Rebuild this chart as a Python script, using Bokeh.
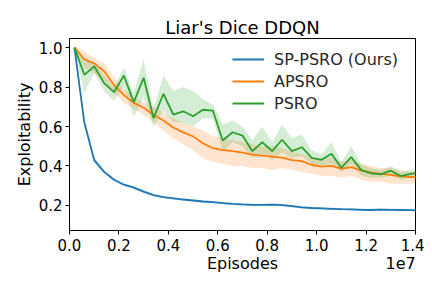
from bokeh.plotting import figure
from bokeh.models import FixedTicker, Range1d, Legend, LegendItem, LinearAxis
from bokeh.embed import file_html
from bokeh.resources import INLINE

episodes = [200000, 600000, 1000000, 1400000, 1800000, 2200000, 2600000, 3000000,
            3400000, 3800000, 4200000, 4600000, 5000000, 5400000, 5800000, 6200000,
            6600000, 7000000, 7400000, 7800000, 8200000, 8600000, 9000000, 9400000,
            9800000, 10200000, 10600000, 11000000, 11400000, 11800000, 12200000,
            12600000, 13000000, 13400000, 13800000, 14200000]

sp_psro = [1.0, 0.62, 0.43, 0.37, 0.33, 0.305, 0.29, 0.27, 0.252, 0.242, 0.236, 0.23,
           0.225, 0.22, 0.217, 0.212, 0.208, 0.205, 0.203, 0.203, 0.204, 0.202, 0.197,
           0.19, 0.187, 0.185, 0.183, 0.181, 0.18, 0.178, 0.177, 0.179, 0.178, 0.177,
           0.176, 0.174]
sp_psro_lo = [0.995, 0.60, 0.415, 0.36, 0.322, 0.298, 0.283, 0.262, 0.245, 0.236, 0.23, 0.224,
              0.219, 0.214, 0.211, 0.206, 0.202, 0.199, 0.197, 0.197, 0.198, 0.196, 0.191,
              0.184, 0.181, 0.179, 0.177, 0.175, 0.174, 0.172, 0.171, 0.173, 0.172, 0.171,
              0.170, 0.168]
sp_psro_hi = [1.0, 0.64, 0.445, 0.38, 0.338, 0.312, 0.297, 0.28, 0.259, 0.248, 0.242, 0.236,
              0.231, 0.226, 0.223, 0.218, 0.214, 0.211, 0.209, 0.209, 0.21, 0.208, 0.203,
              0.196, 0.193, 0.191, 0.189, 0.187, 0.186, 0.184, 0.183, 0.185, 0.184, 0.183,
              0.182, 0.180]

apsro = [1.0, 0.94, 0.92, 0.88, 0.81, 0.76, 0.72, 0.695, 0.66, 0.63, 0.595, 0.57, 0.55,
         0.515, 0.49, 0.48, 0.475, 0.468, 0.458, 0.452, 0.447, 0.442, 0.43, 0.425, 0.405,
         0.397, 0.40, 0.386, 0.394, 0.376, 0.368, 0.36, 0.355, 0.347, 0.344, 0.342]
apsro_lo = [0.99, 0.90, 0.87, 0.83, 0.77, 0.72, 0.69, 0.66, 0.62, 0.58, 0.54, 0.51, 0.48,
            0.44, 0.42, 0.41, 0.40, 0.40, 0.39, 0.39, 0.38, 0.39, 0.38, 0.37, 0.36, 0.35,
            0.35, 0.34, 0.35, 0.33, 0.32, 0.32, 0.31, 0.31, 0.31, 0.31]
apsro_hi = [1.01, 0.98, 0.95, 0.92, 0.85, 0.79, 0.75, 0.72, 0.70, 0.67, 0.64, 0.62, 0.60,
            0.58, 0.55, 0.54, 0.53, 0.52, 0.51, 0.50, 0.50, 0.49, 0.47, 0.46, 0.44, 0.44,
            0.44, 0.42, 0.43, 0.41, 0.40, 0.39, 0.39, 0.38, 0.37, 0.37]

psro = [1.0, 0.862, 0.905, 0.82, 0.774, 0.858, 0.723, 0.847, 0.642, 0.766, 0.66, 0.677,
        0.652, 0.685, 0.681, 0.529, 0.571, 0.554, 0.475, 0.52, 0.475, 0.533, 0.475, 0.495,
        0.441, 0.431, 0.462, 0.391, 0.445, 0.38, 0.363, 0.358, 0.376, 0.349, 0.36, 0.366]
psro_lo = [0.99, 0.77, 0.87, 0.78, 0.73, 0.80, 0.65, 0.75, 0.60, 0.68, 0.62, 0.62, 0.60,
           0.64, 0.64, 0.47, 0.52, 0.50, 0.44, 0.46, 0.43, 0.47, 0.44, 0.45, 0.41, 0.40,
           0.41, 0.37, 0.41, 0.35, 0.34, 0.34, 0.35, 0.33, 0.34, 0.34]
psro_hi = [1.0, 0.93, 0.93, 0.86, 0.80, 0.90, 0.77, 0.94, 0.69, 0.86, 0.78, 0.80, 0.78,
           0.74, 0.71, 0.61, 0.63, 0.60, 0.53, 0.60, 0.52, 0.61, 0.54, 0.56, 0.48, 0.46,
           0.52, 0.42, 0.50, 0.41, 0.39, 0.38, 0.40, 0.37, 0.38, 0.39]

x_ticks = [0, 2000000, 4000000, 6000000, 8000000, 10000000, 12000000, 14000000]
x_tick_labels = ["0.0", "0.2", "0.4", "0.6", "0.8", "1.0", "1.2", "1.4"]
y_ticks = [0.2, 0.4, 0.6, 0.8, 1.0]
y_tick_labels = ["0.2", "0.4", "0.6", "0.8", "1.0"]
x_label_pos = [7000000, 13400000]
x_label_texts = ["Episodes", "1e7"]

BLUE, ORANGE, GREEN = "#1f77b4", "#ff7f0e", "#2ca02c"
FONT = "DejaVu Sans"

p = figure(width=424, height=280, output_backend="svg", toolbar_location=None,
           x_range=Range1d(0, 14000000), y_range=Range1d(0.073, 1.046),
           min_border_left=69, min_border_right=9, min_border_top=38, min_border_bottom=50)
p.grid.visible = False
p.outline_line_color = "black"
p.outline_line_width = 1
p.background_fill_color = "white"
p.border_fill_color = "white"

p.title.text = "Liar's Dice DDQN"
p.title.align = "center"
p.title.text_font = FONT
p.title.text_font_size = "18px"
p.title.text_font_style = "normal"
p.title.text_color = "black"
p.title.standoff = 1

series = [
    (sp_psro, sp_psro_lo, sp_psro_hi, BLUE, "SP-PSRO (Ours)"),
    (apsro, apsro_lo, apsro_hi, ORANGE, "APSRO"),
    (psro, psro_lo, psro_hi, GREEN, "PSRO"),
]
items = []
for ys, lo, hi, col, name in series:
    p.varea(x=episodes, y1=lo, y2=hi, fill_color=col, fill_alpha=0.2)
for ys, lo, hi, col, name in series:
    r = p.line(x=episodes, y=ys, line_color=col, line_width=1.8)
    items.append(LegendItem(label=name, renderers=[r]))

legend = Legend(items=items, location=(157, 111))
legend.label_text_font = FONT
legend.label_text_font_size = "16px"
legend.label_text_color = "#262626"
legend.glyph_width = 32
legend.glyph_height = 20
legend.label_standoff = 10
legend.spacing = 2
legend.padding = 6
legend.margin = 0
legend.border_line_alpha = 0
legend.background_fill_alpha = 0
p.add_layout(legend)

for ax in (p.xaxis, p.yaxis):
    ax.axis_line_color = "black"
    ax.major_tick_line_color = "black"
    ax.minor_tick_line_color = None
    ax.major_tick_in = 0
    ax.major_tick_out = 4
    ax.major_label_text_font = FONT
    ax.major_label_text_font_size = "15px"
    ax.major_label_text_color = "black"
    ax.axis_label_text_font = FONT
    ax.axis_label_text_font_size = "16px"
    ax.axis_label_text_font_style = "normal"
    ax.axis_label_text_color = "black"

p.xaxis.ticker = FixedTicker(ticks=x_ticks)
p.xaxis.major_label_overrides = {t: l for t, l in zip(x_ticks, x_tick_labels)}
p.yaxis.ticker = FixedTicker(ticks=y_ticks)
p.yaxis.major_label_overrides = {t: l for t, l in zip(y_ticks, y_tick_labels)}
p.yaxis.axis_label = "Exploitability"
p.xaxis.major_label_standoff = 4
p.yaxis.major_label_standoff = 3
p.yaxis.axis_label_standoff = 2

# second row under the x axis: axis title and the scale factor on one line
x2 = LinearAxis(ticker=FixedTicker(ticks=x_label_pos),
                major_label_overrides={t: l for t, l in zip(x_label_pos, x_label_texts)})
x2.axis_line_color = None
x2.major_tick_line_color = None
x2.minor_tick_line_color = None
x2.major_tick_in = 0
x2.major_tick_out = 0
x2.major_label_standoff = 0
x2.major_label_text_font = FONT
x2.major_label_text_font_size = "16px"
x2.major_label_text_color = "black"
p.add_layout(x2, "below")

open("out.html", "w").write(file_html(p, INLINE))
